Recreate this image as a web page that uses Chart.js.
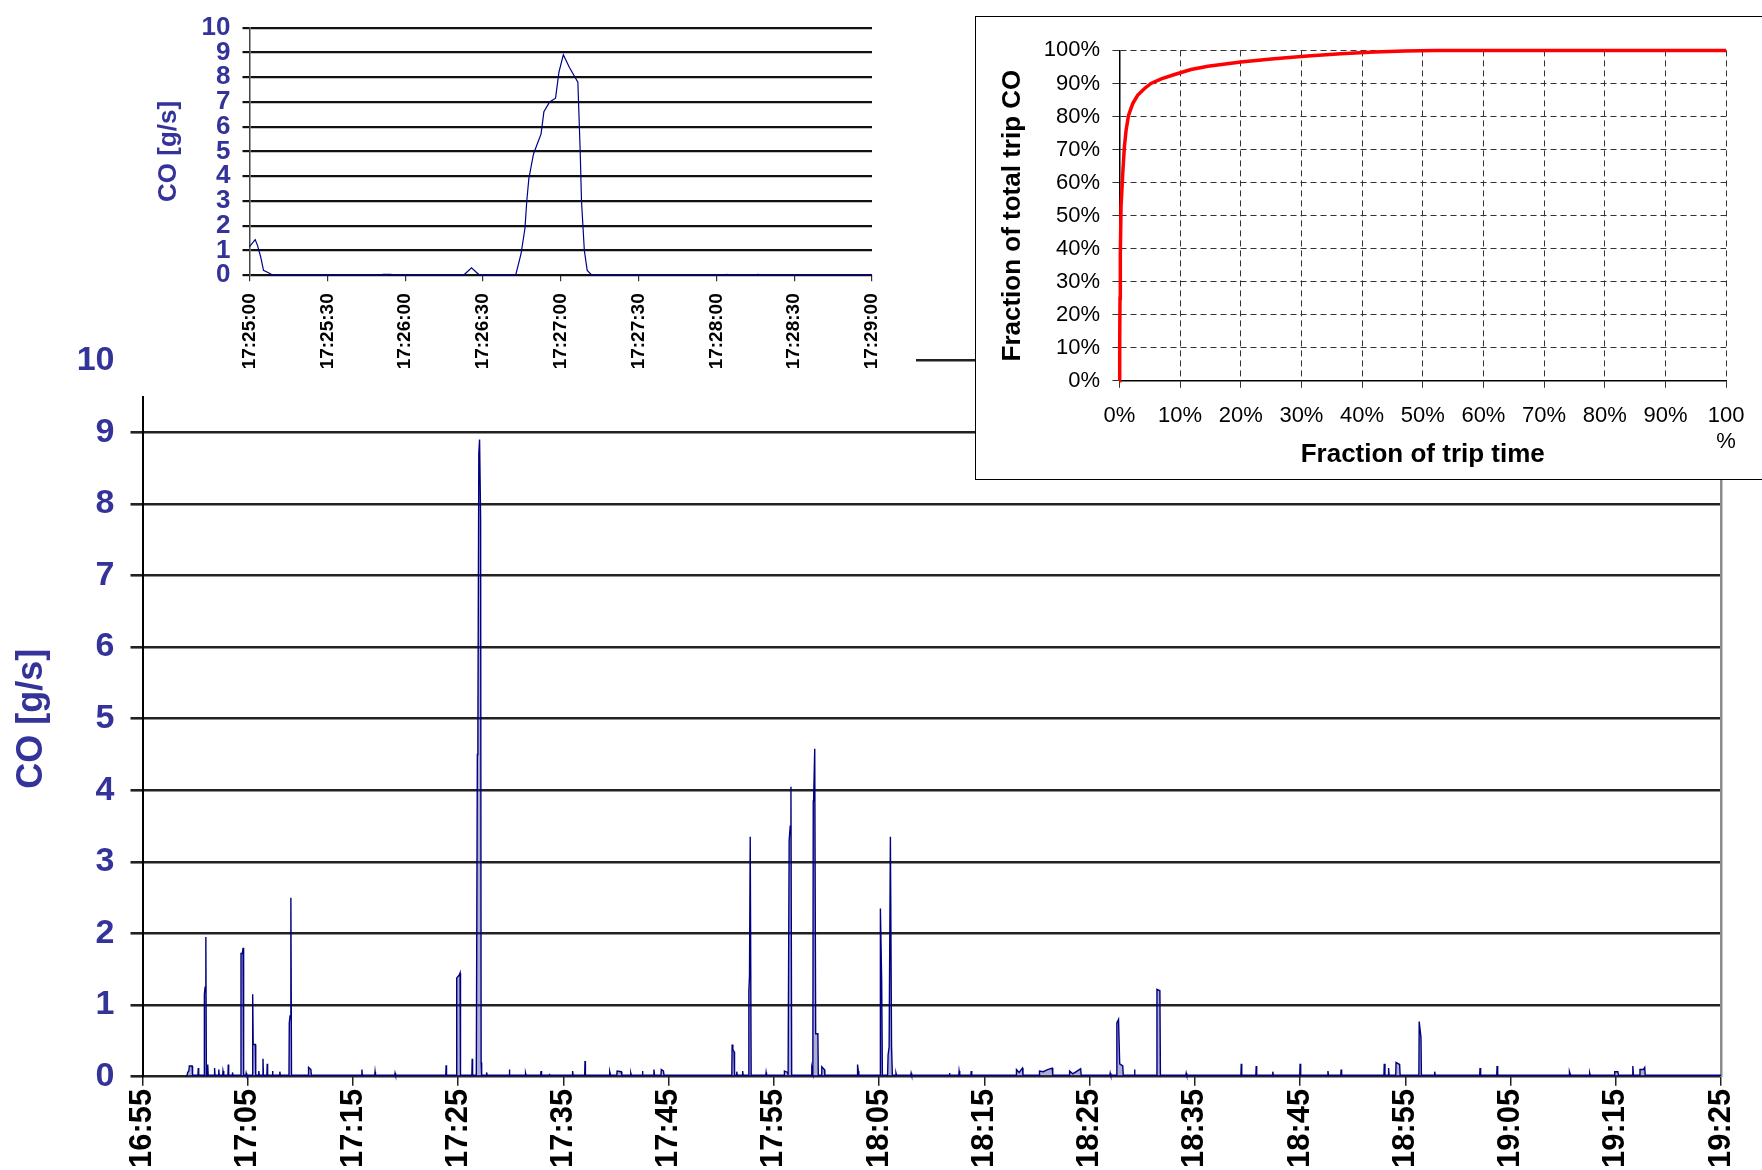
<!DOCTYPE html>
<html>
<head>
<meta charset="utf-8">
<script src="https://cdn.jsdelivr.net/npm/chart.js@4.4.0/dist/chart.umd.min.js"></script>
<style>
  html, body { margin: 0; padding: 0; background: #fff; }
  body { width: 1762px; height: 1170px; position: relative; overflow: hidden; }
  #mainChart { position: absolute; left: 0; top: 0; }
  #zoomWrap { position: absolute; left: 125px; top: 0; width: 791px; height: 396px; background: #fff; }
  #cdfWrap { position: absolute; left: 975px; top: 16px; width: 800px; height: 464px; box-sizing: border-box; border: 1.5px solid #000; background: #fff; }
  #cdfWrap canvas { position: absolute; left: 0; top: 0; }
</style>
</head>
<body>
<canvas id="mainChart" width="1762" height="1170"></canvas>
<div id="zoomWrap"><canvas id="zoomChart" width="791" height="396"></canvas></div>
<div id="cdfWrap"><canvas id="cdfChart" width="797" height="461"></canvas></div>
<script>
document.addEventListener('DOMContentLoaded', function() {
    const FONT = "'Liberation Sans', Arial, sans-serif";
    const NAVY = '#333399';

    // Main trace: minutes after 16:55, CO in g/s
    const mainTicks = ['16:55', '17:05', '17:15', '17:25', '17:35', '17:45', '17:55', '18:05',
                       '18:15', '18:25', '18:35', '18:45', '18:55', '19:05', '19:15', '19:25'];
    const mainTime = [
        4.20, 4.30, 4.40, 4.45, 4.72, 4.76, 5.27, 5.30, 5.34,
        5.86, 5.88, 5.95, 6.02, 6.07, 6.17, 6.20, 6.24,
        6.82, 6.85, 6.89, 7.22, 7.25, 7.29, 7.62, 7.65, 7.72,
        8.12, 8.15, 8.19, 8.52, 8.55, 8.60,
        9.33, 9.36, 9.48, 9.56, 9.61, 9.82, 9.85, 9.90,
        10.44, 10.47, 10.52, 10.72, 10.76, 11.02, 11.05, 11.10,
        11.42, 11.45, 11.49, 11.82, 11.85, 11.89, 12.32, 12.35, 12.40, 13.02, 13.05, 13.10,
        13.92, 13.95, 14.02, 14.10, 14.16, 15.75, 15.78, 16.00, 16.05,
        20.82, 20.85, 20.89, 22.07, 22.10, 22.14, 23.97, 24.00, 24.05, 28.82, 28.85, 28.89,
        29.83, 29.86, 30.10, 30.18, 30.22, 31.30, 31.33, 31.37,
        31.72, 31.82, 31.87, 31.96, 32.03, 32.13, 32.18, 32.23,
        32.67, 32.70, 32.75, 34.83, 34.86, 34.90, 36.37, 36.40, 36.45,
        37.84, 37.87, 37.92, 38.63, 38.66, 38.70, 40.84, 40.87, 40.92,
        42.02, 42.05, 42.09, 44.37, 44.40, 44.48, 45.07, 45.10, 45.50, 45.55,
        46.37, 46.40, 46.45, 47.47, 47.50, 47.56, 48.57, 48.60, 48.66, 49.27, 49.30, 49.50, 49.56,
        56.00, 56.03, 56.10, 56.22, 56.26, 56.44, 56.47, 56.52, 57.00, 57.03, 57.08,
        57.59, 57.62, 57.68, 57.75, 57.84, 59.23, 59.26, 59.30, 60.97, 61.00, 61.30, 61.35,
        61.42, 61.45, 61.55, 61.62, 61.69,
        63.57, 63.60, 63.70, 63.74, 63.78, 63.88, 63.97, 64.18, 64.22,
        64.52, 64.55, 64.80, 64.84, 67.92, 67.95, 68.02, 68.07,
        70.09, 70.12, 70.24, 70.31, 70.80, 70.85, 70.95, 71.07, 71.18, 71.26,
        71.57, 71.60, 71.65, 73.01, 73.04, 73.09, 76.65, 76.68, 76.73,
        77.57, 77.60, 77.66, 78.72, 78.75, 78.80,
        83.02, 83.05, 83.30, 83.62, 83.67, 85.21, 85.24, 85.60, 86.00, 86.45, 86.50,
        88.07, 88.10, 88.40, 89.15, 89.20, 91.93, 91.96, 92.01,
        92.56, 92.59, 92.75, 92.86, 93.15, 93.20, 94.24, 94.27, 94.31,
        96.37, 96.40, 96.68, 96.73, 99.15, 99.18, 99.23,
        104.38, 104.41, 104.46, 105.80, 105.83, 105.88, 107.38, 107.41, 107.46,
        109.97, 110.00, 110.06, 112.62, 112.65, 112.70, 113.87, 113.90, 113.95,
        117.97, 118.00, 118.07, 118.38, 118.41, 118.46, 119.09, 119.12, 119.46, 119.51,
        121.29, 121.32, 121.49, 121.53, 122.76, 122.79, 122.85,
        127.07, 127.10, 127.16, 128.69, 128.72, 128.78,
        135.57, 135.60, 135.70, 137.49, 137.52, 137.57,
        139.87, 139.90, 140.20, 140.26, 141.59, 141.62, 141.68,
        142.27, 142.30, 142.62, 142.75, 142.80, 150.00
    ];
    const mainCO = [
        0, 0.06, 0.08, 0.15, 0.15, 0.02, 0.02, 0.12, 0.02,
        0.02, 1.15, 1.25, 1.95, 0.02, 0.02, 0.17, 0.02,
        0.02, 0.12, 0.02, 0.02, 0.10, 0.02, 0.02, 0.08, 0.02,
        0.02, 0.17, 0.02, 0.02, 0.06, 0.02,
        0.02, 1.72, 1.72, 1.80, 0.02, 0.02, 0.05, 0.02,
        0.02, 1.15, 0.45, 0.45, 0.02, 0.02, 0.08, 0.02,
        0.02, 0.25, 0.02, 0.02, 0.18, 0.02, 0.02, 0.08, 0.02, 0.02, 0.07, 0.02,
        0.02, 0.75, 0.85, 2.50, 0.02, 0.02, 0.13, 0.10, 0.02,
        0.02, 0.10, 0.02, 0.02, 0.07, 0.02, 0.02, 0.05, 0.02, 0.02, 0.16, 0.02,
        0.02, 1.38, 1.42, 1.45, 0.02, 0.02, 0.25, 0.02,
        0.02, 4.50, 4.80, 8.70, 8.90, 7.80, 0.20, 0.02,
        0.02, 0.06, 0.02, 0.02, 0.10, 0.02, 0.02, 0.05, 0.02,
        0.02, 0.08, 0.02, 0.02, 0.04, 0.02, 0.02, 0.08, 0.02,
        0.02, 0.22, 0.02, 0.02, 0.07, 0.02, 0.02, 0.08, 0.07, 0.02,
        0.02, 0.05, 0.02, 0.02, 0.08, 0.02, 0.02, 0.10, 0.02, 0.02, 0.10, 0.08, 0.02,
        0.02, 0.45, 0.38, 0.35, 0.02, 0.02, 0.07, 0.02, 0.02, 0.08, 0.02,
        0.02, 1.20, 1.40, 3.35, 0.02, 0.02, 0.06, 0.02, 0.02, 0.08, 0.06, 0.02,
        0.02, 3.30, 3.50, 4.05, 0.02,
        0.02, 0.12, 0.05, 3.85, 3.90, 4.58, 0.60, 0.60, 0.02,
        0.02, 0.14, 0.10, 0.02, 0.02, 0.17, 0.08, 0.02,
        0.02, 2.35, 1.35, 0.02, 0.02, 0.30, 0.42, 3.35, 0.42, 0.02,
        0.02, 0.05, 0.02, 0.02, 0.05, 0.02, 0.02, 0.05, 0.02,
        0.02, 0.08, 0.02, 0.02, 0.08, 0.02,
        0.02, 0.10, 0.06, 0.12, 0.02, 0.02, 0.08, 0.07, 0.10, 0.12, 0.02,
        0.02, 0.08, 0.04, 0.11, 0.02, 0.02, 0.05, 0.02,
        0.02, 0.75, 0.80, 0.18, 0.15, 0.02, 0.02, 0.10, 0.02,
        0.02, 1.22, 1.20, 0.02, 0.02, 0.05, 0.02,
        0.02, 0.18, 0.02, 0.02, 0.15, 0.02, 0.02, 0.07, 0.02,
        0.02, 0.18, 0.02, 0.02, 0.08, 0.02, 0.02, 0.10, 0.02,
        0.02, 0.18, 0.02, 0.02, 0.12, 0.02, 0.02, 0.20, 0.17, 0.02,
        0.02, 0.77, 0.55, 0.02, 0.02, 0.07, 0.02,
        0.02, 0.12, 0.02, 0.02, 0.15, 0.02,
        0.02, 0.07, 0.02, 0.02, 0.05, 0.02,
        0.02, 0.07, 0.07, 0.02, 0.02, 0.15, 0.02,
        0.02, 0.10, 0.10, 0.13, 0.02, 0.02
    ];

    // Zoomed window: seconds after 17:25:00
    const insetTicks = ['17:25:00', '17:25:30', '17:26:00', '17:26:30', '17:27:00',
                        '17:27:30', '17:28:00', '17:28:30', '17:29:00'];
    const insetSec = [0, 2.2, 3.1, 4.3, 5.4, 7.3, 9.1, 50, 51.5, 54.5, 56, 82.5, 85.6, 88.7,
                      102.6, 104.7, 106.2, 106.9, 107.7, 109.5, 111.3, 112.4, 113.5, 115.7, 118,
                      119.3, 121, 123.3, 126.6, 127.5, 128, 129.1, 130.2, 132.1,
                      182, 184, 186, 194, 196, 198, 240];
    const insetCO = [1.16, 1.44, 1.2, 0.75, 0.2, 0.1, 0, 0, 0.04, 0.04, 0, 0, 0.3, 0,
                     0, 0.87, 1.9, 3.0, 3.9, 4.9, 5.4, 5.7, 6.6, 7.0, 7.15,
                     8.2, 8.9, 8.4, 7.8, 5.0, 3.0, 1.0, 0.2, 0,
                     0, 0.04, 0, 0, 0.04, 0, 0];

    // Cumulative share of trip CO vs share of trip time (%)
    const cdfTicksX = ['0%', '10%', '20%', '30%', '40%', '50%', '60%', '70%', '80%', '90%', ['100', '%']];
    const cdfTicksY = ['0%', '10%', '20%', '30%', '40%', '50%', '60%', '70%', '80%', '90%', '100%'];
    const cdfTime = [0, 0.05, 0.1, 0.15, 0.27, 0.55, 0.82, 1.1, 1.5, 2.2, 3.0, 4.1, 5.2, 6.9, 9.1,
                     11.8, 14.6, 20, 25.5, 31, 36.5, 42, 47, 52, 60, 70, 80, 90, 100];
    const cdfCO = [0, 12, 25, 38, 52.7, 62.7, 70.8, 75.8, 80.3, 83.9, 86.4, 88.4, 90, 91.4, 92.7,
                   94.2, 95.2, 96.5, 97.5, 98.3, 99.0, 99.5, 99.8, 100, 100, 100, 100, 100, 100];

    const base = {
        responsive: false,
        animation: false,
        plugins: { legend: { display: false }, tooltip: { enabled: false } }
    };

    // Main chart
    new Chart(document.getElementById('mainChart'), {
        type: 'line',
        data: {
            datasets: [{
                data: mainTime.map((t, i) => ({ x: t, y: mainCO[i] })),
                borderColor: '#000080',
                borderWidth: 1.4,
                backgroundColor: 'rgba(51,51,153,0.4)',
                fill: 'origin',
                pointRadius: 0,
                tension: 0,
                clip: 4
            }]
        },
        options: Object.assign({}, base, {
            layout: { padding: { top: 360.7, right: 41, bottom: 0, left: 0 } },
            scales: {
                x: {
                    type: 'linear', min: 0, max: 150,
                    afterFit: s => { s.height = 93.3; },
                    ticks: {
                        stepSize: 10, autoSkip: false, minRotation: 90, maxRotation: 90, padding: 3,
                        color: '#000', font: { family: FONT, size: 31, weight: 'bold' },
                        callback: v => mainTicks[Math.round(v / 10)]
                    },
                    grid: { drawOnChartArea: false, tickLength: 9, color: '#222', lineWidth: 1.5 },
                    border: { display: false }
                },
                y: {
                    min: 0, max: 10,
                    afterFit: s => { s.width = 142.5; },
                    ticks: {
                        stepSize: 1, autoSkip: false, padding: 16,
                        color: NAVY, font: { family: FONT, size: 34, weight: 'bold' }
                    },
                    grid: { color: '#222', lineWidth: 2.6, tickLength: 12 },
                    border: { color: '#000', width: 2 },
                    title: {
                        display: true, text: 'CO [g/s]', color: NAVY,
                        font: { family: FONT, size: 36, weight: 'bold' },
                        padding: { top: 10, bottom: 0 }
                    }
                },
                y2: {
                    position: 'right', min: 0, max: 10,
                    afterFit: s => { s.width = 0; },
                    ticks: { display: false },
                    grid: { display: false },
                    border: { color: '#8c8c8c', width: 2.5 }
                }
            }
        })
    });

    // Zoomed inset
    new Chart(document.getElementById('zoomChart'), {
        type: 'line',
        data: {
            datasets: [{
                data: insetSec.map((s, i) => ({ x: s, y: insetCO[i] })),
                borderColor: '#00008b',
                borderWidth: 1.2,
                fill: false,
                pointRadius: 0,
                tension: 0,
                clip: 3
            }]
        },
        options: Object.assign({}, base, {
            layout: { padding: { top: 21.4, right: 44, bottom: 0, left: 0 } },
            scales: {
                x: {
                    type: 'linear', min: 0, max: 240,
                    afterFit: s => { s.height = 120.7; },
                    ticks: {
                        stepSize: 30, autoSkip: false, minRotation: 90, maxRotation: 90, padding: 12,
                        color: '#000', font: { family: FONT, size: 19, weight: 'bold' },
                        callback: v => insetTicks[Math.round(v / 30)]
                    },
                    grid: { drawOnChartArea: false, tickLength: 6, color: '#333', lineWidth: 1.2 },
                    border: { display: false }
                },
                y: {
                    min: 0, max: 10,
                    afterFit: s => { s.width = 124.5; },
                    ticks: {
                        stepSize: 1, autoSkip: false, padding: 12,
                        color: NAVY, font: { family: FONT, size: 26, weight: 'bold' }
                    },
                    grid: { color: '#111', lineWidth: 2.2, tickLength: 7 },
                    border: { color: '#444', width: 1.5 },
                    title: {
                        display: true, text: 'CO [g/s]', color: NAVY,
                        font: { family: FONT, size: 26, weight: 'bold' },
                        padding: { top: 28, bottom: 0 }
                    }
                }
            }
        })
    });

    // Cumulative inset
    new Chart(document.getElementById('cdfChart'), {
        type: 'line',
        data: {
            datasets: [{
                data: cdfTime.map((t, i) => ({ x: t, y: cdfCO[i] })),
                borderColor: '#ff0000',
                borderWidth: 3.5,
                fill: false,
                pointRadius: 0,
                tension: 0,
                clip: 4
            }]
        },
        options: Object.assign({}, base, {
            layout: { padding: { top: 33.4, right: 46.9, bottom: 0, left: 0 } },
            scales: {
                x: {
                    type: 'linear', min: 0, max: 100,
                    afterFit: s => { s.height = 97.2; },
                    ticks: {
                        stepSize: 10, autoSkip: false, maxRotation: 0, padding: 14.6,
                        color: '#000', font: { family: FONT, size: 22 },
                        callback: v => cdfTicksX[Math.round(v / 10)]
                    },
                    grid: { color: '#333', lineWidth: 1, tickLength: 7 },
                    border: { color: '#000', width: 1.5, dash: [6, 4] },
                    title: {
                        display: true, text: 'Fraction of trip time', color: '#000',
                        font: { family: FONT, size: 26, weight: 'bold' },
                        padding: { top: 0, bottom: 7.6 }
                    }
                },
                y: {
                    min: 0, max: 100,
                    afterFit: s => { s.width = 143.4; },
                    ticks: {
                        stepSize: 10, autoSkip: false, padding: 12.3,
                        color: '#000', font: { family: FONT, size: 22 },
                        callback: v => cdfTicksY[Math.round(v / 10)]
                    },
                    grid: { color: '#333', lineWidth: 1, tickLength: 7 },
                    border: { color: '#000', width: 1.5, dash: [6, 4] },
                    title: {
                        display: true, text: 'Fraction of total trip CO', color: '#000',
                        font: { family: FONT, size: 26, weight: 'bold' },
                        padding: { top: 21.1, bottom: 0 }
                    }
                }
            }
        })
    });
});
</script>
</body>
</html>
